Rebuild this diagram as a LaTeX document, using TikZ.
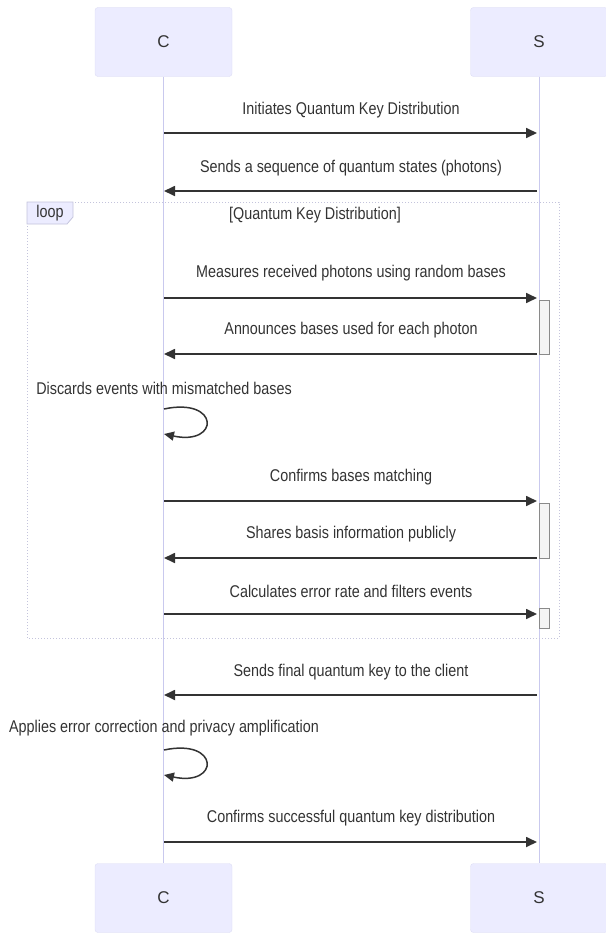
\documentclass[tikz,border=0pt]{standalone}
\usepackage{fontspec}
\setmainfont{Liberation Sans}
\usetikzlibrary{arrows.meta}
\definecolor{actorfill}{HTML}{ECECFF}
\definecolor{actorline}{HTML}{DCDCF4}
\definecolor{lifecol}{HTML}{C9C9EE}
\definecolor{msgcol}{HTML}{333333}
\definecolor{loopcol}{HTML}{C4C4DC}
\definecolor{actfill}{HTML}{F4F4F4}
\definecolor{actline}{HTML}{8A8A8A}
\tikzset{
  actor/.style={draw=actorline, fill=actorfill, rounded corners=3pt,
    minimum width=137pt, minimum height=69pt, inner sep=0pt,
    font=\fontsize{17}{20}\selectfont, text=msgcol},
  lifeline/.style={draw=lifecol, line width=0.9pt},
  msg/.style={draw=msgcol, line width=1.7pt,
    -{Triangle[length=11pt,width=10pt]}},
  selfmsg/.style={draw=msgcol, line width=1.5pt,
    -{Triangle[length=10pt,width=9pt]}},
  lbl/.style={font=\fontsize{17}{20}\selectfont, text=msgcol,
    xscale=0.845, inner sep=0pt},
  activation/.style={draw=actline, fill=actfill, line width=0.8pt},
  loopframe/.style={draw=loopcol, dotted, line width=1pt},
}
\begin{document}
\begin{tikzpicture}[x=1pt, y=-1pt]
\useasboundingbox (0,0) rectangle (605,934);

% participants, top and bottom
\node[actor] (ctop) at (163.5,42) {C};
\node[actor] (stop) at (539,42) {S};
\node[actor] (cbot) at (163.5,898) {C};
\node[actor] (sbot) at (539,898) {S};

% lifelines
\draw[lifeline] (ctop.south) -- (cbot.north);
\draw[lifeline] (stop.south) -- (sbot.north);

% loop frame
\draw[loopframe] (27,202) rectangle (559,638);
\draw[draw=loopcol, fill=actorfill, line width=0.8pt]
  (27,202) -- (73,202) -- (73,217) -- (67,224) -- (27,224) -- cycle;
\node[lbl] (looplbl) at (50,213) {loop};
\node[lbl] (loopcond) at (315,215) {[Quantum Key Distribution]};

% activation bars on S
\draw[activation] (539,300) rectangle (549,354);
\draw[activation] (539,503) rectangle (549,558);
\draw[activation] (539,608) rectangle (549,628);

% message end points on the lifelines
\coordinate (c1) at (164,133); \coordinate (s1) at (537,133);
\coordinate (c2) at (164,191); \coordinate (s2) at (537,191);
\coordinate (c3) at (164,298); \coordinate (s3) at (537,298);
\coordinate (c4) at (164,354); \coordinate (s4) at (537,354);
\coordinate (c6) at (164,501); \coordinate (s6) at (537,501);
\coordinate (c7) at (164,558); \coordinate (s7) at (537,558);
\coordinate (c8) at (164,614); \coordinate (s8) at (537,614);
\coordinate (c9) at (164,695); \coordinate (s9) at (537,695);
\coordinate (c11) at (164,842); \coordinate (s11) at (537,842);
\coordinate (l5a) at (164,409); \coordinate (l5b) at (164,434);
\coordinate (l10a) at (164,750); \coordinate (l10b) at (164,775);

% messages
\node[lbl] (m1) at (351,110) {Initiates Quantum Key Distribution};
\draw[msg] (c1) -- (s1);
\node[lbl] (m2) at (351,168) {Sends a sequence of quantum states (photons)};
\draw[msg] (s2) -- (c2);
\node[lbl] (m3) at (351,273) {Measures received photons using random bases};
\draw[msg] (c3) -- (s3);
\node[lbl] (m4) at (351,330) {Announces bases used for each photon};
\draw[msg] (s4) -- (c4);
\node[lbl] (m5) at (164,388) {Discards events with mismatched bases};
\draw[selfmsg] (l5a) .. controls (220,397) and (220,446) .. (l5b);
\node[lbl] (m6) at (351,477) {Confirms bases matching};
\draw[msg] (c6) -- (s6);
\node[lbl] (m7) at (351,534) {Shares basis information publicly};
\draw[msg] (s7) -- (c7);
\node[lbl] (m8) at (351,591) {Calculates error rate and filters events};
\draw[msg] (c8) -- (s8);
\node[lbl] (m9) at (351,672) {Sends final quantum key to the client};
\draw[msg] (s9) -- (c9);
\node[lbl] (m10) at (164,728) {Applies error correction and privacy amplification};
\draw[selfmsg] (l10a) .. controls (220,738) and (220,787) .. (l10b);
\node[lbl] (m11) at (351,818) {Confirms successful quantum key distribution};
\draw[msg] (c11) -- (s11);
\end{tikzpicture}
\end{document}
